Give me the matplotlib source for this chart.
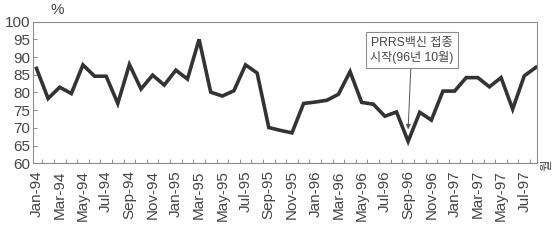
import matplotlib
matplotlib.use("Agg")
import matplotlib.pyplot as plt

plt.rcParams["font.family"] = ["Liberation Sans", "Noto Sans CJK KR"]

# monthly categories Jan-94 .. Aug-97
month_names = ["Jan", "Feb", "Mar", "Apr", "May", "Jun",
               "Jul", "Aug", "Sep", "Oct", "Nov", "Dec"]
months = [f"{m}-{y}" for y in ("94", "95", "96", "97") for m in month_names][:44]

# rate (%)
rate = [86.8, 78.3, 81.5, 79.7, 87.8, 84.6, 84.6, 76.9, 87.9, 81.0, 84.9, 82.1,
        86.3, 83.8, 95.0, 80.1, 79.0, 80.5, 87.8, 85.5, 70.1, 69.3, 68.6, 76.9,
        77.3, 77.8, 79.5, 85.9, 77.2, 76.7, 73.3, 74.5, 66.2, 74.4, 72.2, 80.4,
        80.4, 84.2, 84.2, 81.6, 84.2, 75.3, 84.7, 87.1]

note = "PRRS백신 접종\n시작(96년 10월)"
note_idx = months.index("Sep-96")

TXT = "#454545"
AX = "#8c8c8c"

fig = plt.figure(figsize=(5.54, 2.4), dpi=100)
ax = fig.add_axes([0.0601, 0.3196, 0.909, 0.59])

x = list(range(len(rate)))
ax.plot(x, rate, color="#333333", lw=2.6, solid_joinstyle="miter")

ax.set_xlim(-0.275, 43.086)
ax.set_ylim(60, 100)
ax.set_yticks(range(60, 101, 5))
ax.set_xticks(x[::2])
ax.set_xticklabels(months[::2], rotation=90)
ax.set_xticks([i + 0.5 for i in range(len(rate) - 1)], minor=True)

ax.tick_params(axis="x", which="major", length=0, pad=5, labelsize=11, labelcolor=TXT)
ax.tick_params(axis="x", which="minor", direction="in", length=3, width=0.7, color=AX)
ax.tick_params(axis="y", direction="in", length=3, width=0.7, color=AX,
               pad=2, labelsize=11, labelcolor=TXT)
for s in ax.spines.values():
    s.set_color(AX)
    s.set_linewidth(0.8)

ax.annotate(note, xy=(note_idx, 69.6), xytext=(note_idx + 0.3, 91.9),
            ha="center", va="center", fontsize=8.7, color=TXT, linespacing=1.25,
            bbox=dict(boxstyle="square,pad=0.35", fc="white", ec=AX, lw=0.8),
            arrowprops=dict(arrowstyle="-|>", color="#555555", lw=0.7,
                            mutation_scale=7, shrinkA=0, shrinkB=0))

fig.text(57 / 554, 1 - 10 / 240, "%", ha="center", va="center", fontsize=11, color=TXT)
fig.text(547 / 554, 1 - 165 / 240, "월", rotation=90, ha="center", va="center",
         fontsize=9, color=TXT)

fig.savefig("out.png", dpi=100)
